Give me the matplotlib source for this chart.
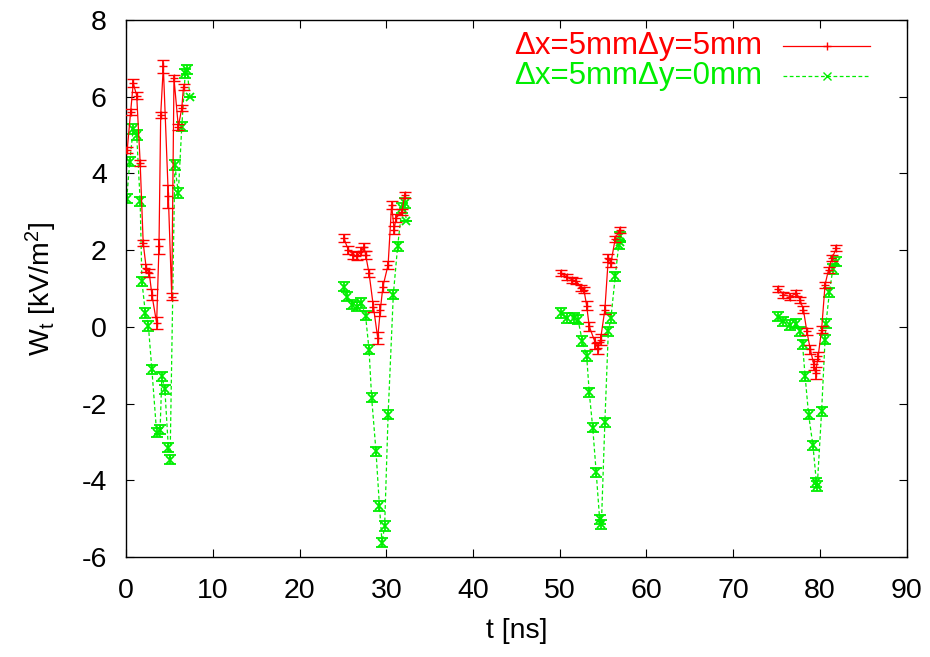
"""W_t time series for two probe offsets, gnuplot-like styling."""
import matplotlib
matplotlib.use("Agg")
import matplotlib.pyplot as plt
from matplotlib.lines import Line2D

plt.rcParams["font.family"] = ["Liberation Sans", "DejaVu Sans"]
plt.rcParams["mathtext.fontset"] = "custom"
plt.rcParams["mathtext.rm"] = "Liberation Sans"
plt.rcParams["mathtext.it"] = "Liberation Sans"
plt.rcParams["axes.unicode_minus"] = False

# one sub-list per pulse window
red_t = [
    [0.1, 0.5, 0.8, 1.2, 1.6, 1.95, 2.3, 2.65, 2.95, 3.5, 3.77, 3.97, 4.27, 4.85, 5.24, 5.5, 6.0, 6.4, 6.6],
    [25.1, 25.6, 26.2, 26.6, 27.1, 27.4, 27.6, 28.0, 28.5, 29.0, 29.3, 29.6, 30.2, 30.6, 30.9, 31.1, 31.8, 32.1],
    [50.1, 50.8, 51.4, 51.9, 52.5, 52.8, 53.1, 53.4, 54.1, 54.4, 54.7, 55.2, 55.6, 55.9, 56.4, 56.9],
    [75.2, 75.8, 76.6, 77.3, 77.7, 78.1, 78.5, 78.9, 79.3, 79.5, 79.8, 80.2, 80.6, 81.0, 81.4, 81.9],
]
red_w = [
    [4.6, 5.6, 6.35, 6.03, 4.28, 2.18, 1.53, 1.4, 0.84, 0.1, 2.1, 5.53, 6.79, 3.4, 0.79, 6.48, 5.22, 5.7, 6.26],
    [2.31, 2.01, 1.88, 1.84, 1.97, 2.08, 1.88, 1.4, 0.53, -0.29, 0.44, 1.05, 1.62, 3.18, 2.53, 2.84, 3.0, 3.44],
    [1.4, 1.3, 1.23, 1.19, 1.01, 0.95, 0.55, 0.01, -0.42, -0.55, -0.33, 0.45, 1.8, 1.67, 2.3, 2.53],
    [0.99, 0.84, 0.79, 0.88, 0.71, 0.45, -0.12, -0.59, -0.98, -1.2, -0.77, -0.07, 1.1, 1.49, 1.79, 2.05],
]
red_err = [
    [0.08, 0.08, 0.1, 0.08, 0.08, 0.08, 0.1, 0.1, 0.15, 0.15, 0.2, 0.08, 0.17, 0.3, 0.1, 0.08, 0.08, 0.08, 0.08],
    [0.1, 0.1, 0.1, 0.1, 0.1, 0.1, 0.1, 0.1, 0.15, 0.15, 0.15, 0.15, 0.1, 0.1, 0.1, 0.1, 0.08, 0.08],
    [0.08, 0.08, 0.08, 0.08, 0.08, 0.08, 0.12, 0.12, 0.15, 0.15, 0.15, 0.12, 0.1, 0.1, 0.08, 0.08],
    [0.08, 0.08, 0.08, 0.08, 0.08, 0.1, 0.1, 0.12, 0.15, 0.15, 0.12, 0.1, 0.08, 0.08, 0.08, 0.08],
]

green_t = [
    [0.05, 0.4, 0.8, 1.2, 1.6, 1.8, 2.2, 2.55, 2.95, 3.5, 3.9, 4.1, 4.45, 4.85, 5.05, 5.6, 6.0, 6.4, 6.8, 7.0, 7.35],
    [25.1, 25.4, 26.0, 26.6, 27.1, 27.6, 28.0, 28.3, 28.8, 29.2, 29.5, 29.8, 30.2, 30.8, 31.3, 31.8, 32.1, 32.3],
    [50.1, 50.8, 51.6, 52.1, 52.6, 53.1, 53.4, 53.8, 54.2, 54.6, 54.8, 55.2, 55.6, 55.9, 56.4, 56.8, 56.9, 57.0],
    [75.2, 75.8, 76.6, 77.3, 77.7, 78.0, 78.3, 78.7, 79.2, 79.6, 79.7, 80.2, 80.6, 80.7, 81.1, 81.5, 81.9],
]
green_w = [
    [3.34, 4.31, 5.16, 5.0, 3.27, 1.19, 0.36, 0.02, -1.11, -2.76, -2.68, -1.29, -1.63, -3.15, -3.46, 4.22, 3.49, 5.22, 6.61, 6.7, 6.0],
    [1.05, 0.79, 0.58, 0.53, 0.62, 0.29, -0.6, -1.85, -3.24, -4.67, -5.63, -5.19, -2.29, 0.84, 2.1, 3.1, 3.23, 2.75],
    [0.36, 0.23, 0.23, 0.19, -0.37, -0.76, -1.71, -2.63, -3.79, -5.02, -5.15, -2.49, -0.12, 0.23, 1.32, 2.14, 2.36, 2.2],
    [0.26, 0.14, 0.05, 0.08, -0.12, -0.46, -1.29, -2.29, -3.09, -4.05, -4.15, -2.2, -0.33, 0.08, 0.9, 1.51, 1.7],
]
green_err = [
    [0.12] * 20 + [0.0],
    [0.12] * 17 + [0.0],
    [0.12] * 17 + [0.0],
    [0.12] * 17,
]

x_ticks = [0, 10, 20, 30, 40, 50, 60, 70, 80, 90]
y_ticks = [-6, -4, -2, 0, 2, 4, 6, 8]

RED = "#ff0000"
GREEN = "#00ee00"

fig = plt.figure(figsize=(9.3, 6.57), dpi=100)
ax = fig.add_axes([0.1358, 0.1522, 0.839, 0.8174])

for t, w, e in zip(red_t, red_w, red_err):
    ax.errorbar(t, w, yerr=e, color=RED, lw=0.9, marker="+", ms=6, mew=1.0,
                elinewidth=1.3, capsize=4, capthick=1.3, zorder=3)
for t, w, e in zip(green_t, green_w, green_err):
    ax.errorbar(t, w, yerr=e, color=GREEN, lw=0.9, ls=(0, (3, 2)), marker="x", ms=6, mew=1.3,
                elinewidth=1.3, capsize=4, capthick=1.3, zorder=2)

ax.set_xlim(0, 90)
ax.set_ylim(-6, 8)
ax.set_xticks(x_ticks)
ax.set_yticks(y_ticks)
ax.tick_params(direction="in", length=6, width=0.8, top=True, right=True, labelsize=20.5, pad=15)
ax.tick_params(axis="y", pad=14)
for s in ax.spines.values():
    s.set_linewidth(1.0)

ax.set_xlabel("t [ns]", fontsize=20.5, labelpad=10)
ax.set_ylabel(r"W$_\mathrm{t}$ [kV/m$^\mathrm{2}$]", fontsize=20.5, labelpad=16)

# gnuplot-style key: right-aligned coloured text with sample to the right
key = [("Δx=5mmΔy=5mm", RED, "-", "+"), ("Δx=5mmΔy=0mm", GREEN, (0, (3, 2)), "x")]
for i, (label, c, ls, mk) in enumerate(key):
    y = 0.9516 - i * 0.056
    ax.text(0.8147, y, label, transform=ax.transAxes, color=c, fontsize=22.5,
            ha="right", va="center")
    ax.add_line(Line2D([0.842, 0.953], [y, y], transform=ax.transAxes, color=c, lw=0.9, ls=ls))
    ax.add_line(Line2D([0.898], [y], transform=ax.transAxes, color=c, marker=mk, ms=6, mew=1.0))

fig.savefig("out.png", dpi=100)
